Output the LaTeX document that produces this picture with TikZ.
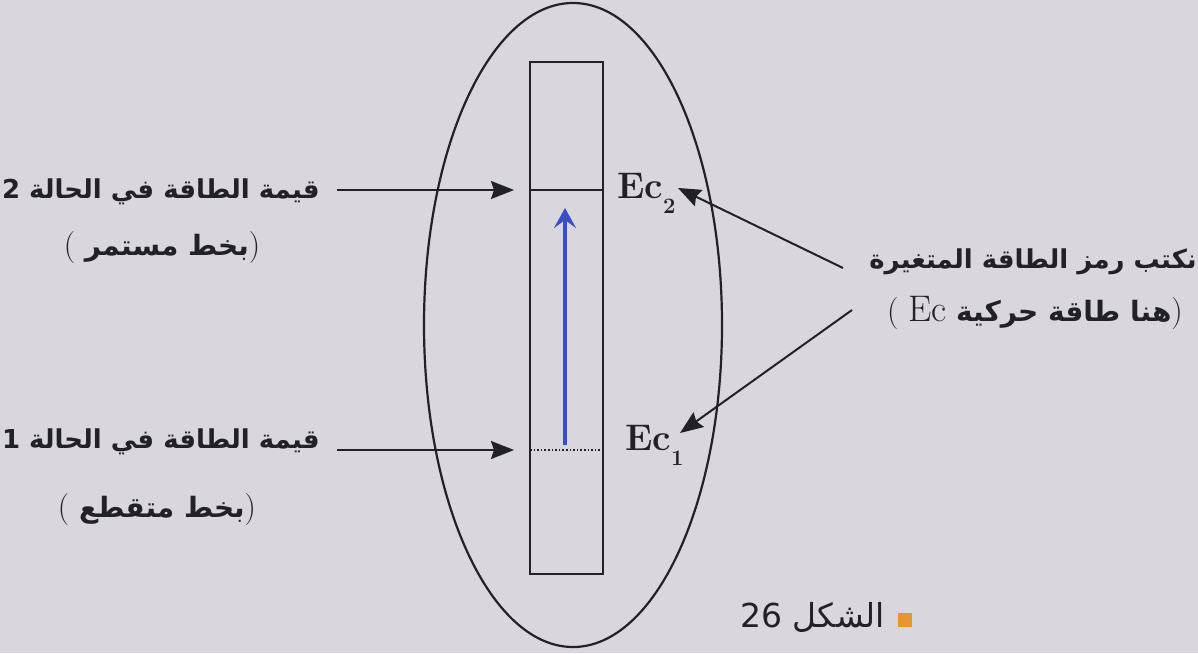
\documentclass[tikz,border=0pt]{standalone}
\usepackage{fontspec}
\usetikzlibrary{arrows.meta,shapes.geometric}
\TeXXeTstate=1
\newfontfamily\arabicfont[Script=Arabic]{DejaVu Sans}
\definecolor{bg}{RGB}{217,215,221}
\definecolor{bluearr}{RGB}{58,78,200}
\definecolor{sq}{RGB}{232,150,48}
\definecolor{ink}{RGB}{35,33,40}
\tikzset{
  arlbl/.style={inner sep=0pt, text=ink, font=\arabicfont\bfseries\fontsize{26}{30}\selectfont},
  arsub/.style={inner sep=0pt, text=ink, font=\arabicfont\bfseries\fontsize{28}{30}\selectfont},
  arcap/.style={inner sep=0pt, text=ink, font=\arabicfont\fontsize{33}{36}\selectfont},
  eclbl/.style={inner sep=0pt, text=ink, anchor=base west, font=\bfseries\fontsize{37}{40}\selectfont},
  ptr/.style={draw=ink, line width=2pt, -{Stealth[length=23pt,width=18pt,inset=3pt]}},
  outline/.style={draw=ink, line width=2.2pt},
}
\newcommand{\subidx}[1]{\raisebox{-15pt}{\fontsize{22}{22}\selectfont #1}}
\newcommand{\lpar}{{\rmfamily\mdseries\fontsize{32}{32}\selectfont(}}
\newcommand{\rpar}{{\rmfamily\mdseries\fontsize{32}{32}\selectfont)}}
\begin{document}
\begin{tikzpicture}[x=1pt,y=-1pt]
\fill[bg] (0,0) rectangle (1198,653);
\useasboundingbox (0,0) rectangle (1198,653);

% ellipse and bar
\node[outline, ellipse, minimum width=298pt, minimum height=644pt, inner sep=0pt] (ell) at (573,325) {};
\node[outline, line width=2pt, minimum width=73pt, minimum height=512pt, inner sep=0pt] (bar) at (566.5,318) {};

% levels
\coordinate (l2w) at (530,190);
\coordinate (l2e) at (603,190);
\coordinate (l1w) at (530,450);
\coordinate (l1e) at (603,450);
\draw[draw=ink, line width=1.8pt] (l2w) -- (l2e);
\draw[draw=ink, line width=1.6pt, dotted] (l1w) -- (l1e);

% blue arrow
\coordinate (b0) at (565,445);
\coordinate (b1) at (565,208);
\draw[bluearr, line width=3.5pt, -{Stealth[length=20pt,width=22pt,inset=8pt]}] (b0) -- (b1);

% Ec labels
\node[eclbl] (ec2) at (617,198) {Ec\subidx{2}};
\node[eclbl] (ec1) at (625,450) {Ec\subidx{1}};

% left labels
\node[arlbl, anchor=east] (t2a) at (320,192) {\beginR قيمة الطاقة في الحالة 2\endR};
\node[arsub] (t2b) at (162,248) {\lpar\ \beginR بخط مستمر\endR\rpar};
\node[arlbl, anchor=east] (t1a) at (320,442) {\beginR قيمة الطاقة في الحالة 1\endR};
\node[arsub] (t1b) at (157,510) {\lpar\ \beginR بخط متقطع\endR\rpar};

\coordinate (s2) at (337,190);
\coordinate (e2) at (514,190);
\coordinate (s1) at (337,450);
\coordinate (e1) at (514,450);
\draw[ptr] (s2) -- (e2);
\draw[ptr] (s1) -- (e1);

% right labels
\node[arlbl, anchor=east] (r1) at (1197,262) {\beginR نكتب رمز الطاقة المتغيرة\endR};
\node[arsub, anchor=east] (r2) at (1183,313) {\lpar\ {\mdseries\rmfamily\fontsize{37}{38}\selectfont Ec}\ \beginR هنا طاقة حركية\endR\rpar};

\coordinate (rs2) at (843,268);
\coordinate (re2) at (678,188);
\coordinate (rs1) at (852,310);
\coordinate (re1) at (680,433);
\draw[ptr] (rs2) -- (re2);
\draw[ptr] (rs1) -- (re1);

% caption
\node[fill=sq, minimum size=14pt, inner sep=0pt] (sqr) at (905,620) {};
\node[arcap, anchor=east] (cap) at (885,617) {\beginR الشكل \beginL 26\endL\endR};
\end{tikzpicture}
\end{document}
